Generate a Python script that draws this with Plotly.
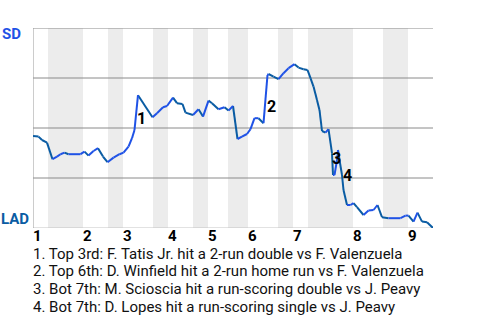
import plotly.graph_objects as go

# Win probability for SD (%), indexed by plate-appearance progress through the game
play_x = [0.0, 1.1, 1.8, 2.8, 3.9, 4.8, 5.5, 6.3, 7.1, 9.5, 10.3, 11.1, 12.1, 13.0, 14.0, 14.9,
          16.1, 17.3, 18.1, 19.1, 19.8, 20.3, 21.0, 23.9, 24.8, 26.0, 26.8, 28.0, 28.8, 29.9,
          30.5, 32.0, 33.1, 34.0, 35.1, 35.8, 37.1, 38.3, 39.1, 40.0, 40.9, 41.8, 42.8, 43.5,
          44.3, 45.1, 46.1, 46.9, 47.1, 48.1, 49.1, 50.1, 51.1, 52.3, 53.1, 54.1, 54.9, 55.5,
          56.1, 56.8, 57.3, 57.8, 58.5, 59.1, 59.8, 60.0, 60.3, 60.8, 61.0, 61.3, 61.8, 62.1,
          62.8, 63.5, 64.1, 64.8, 66.1, 67.1, 68.1, 68.9, 69.8, 71.1, 73.5, 74.5, 75.1, 76.1,
          76.9, 77.8, 78.8, 80.0]
sd_wp = [46.0, 45.7, 44.0, 42.7, 34.4, 35.7, 36.9, 37.7, 36.9, 36.9, 38.2, 36.2, 38.5, 39.9, 35.7, 32.9,
         35.2, 36.9, 37.7, 40.7, 44.9, 49.0, 66.4, 55.4, 57.4, 60.4, 61.0, 65.2, 62.4, 62.0,
         57.7, 56.5, 59.4, 55.7, 63.7, 62.4, 59.4, 60.4, 58.7, 61.0, 44.5, 45.7, 47.0, 49.4,
         54.9, 54.9, 52.4, 76.5, 77.0, 75.7, 74.4, 77.4, 79.9, 81.9, 80.2, 79.4, 79.0, 74.9,
         70.7, 64.0, 59.0, 48.5, 47.7, 49.4, 37.4, 26.5, 26.5, 34.0, 39.0, 34.0, 26.5, 19.0,
         11.5, 11.5, 12.4, 10.4, 6.5, 8.7, 9.0, 11.5, 5.4, 4.9, 4.9, 6.2, 6.2, 3.2,
         7.7, 3.2, 2.9, 0.0]

# half-inning boundaries (in plate appearances)
half_starts = [0, 3, 10, 15, 18, 24, 27, 32, 35, 39, 43, 49, 52, 55, 64, 70, 75, 80]
inning_labels = ["1", "2", "3", "4", "5", "6", "7", "8", "9"]

# key events: index into the play arrays, label
event_idx = [22, 47, 65, 70]
event_labels = ["1", "2", "3", "4"]
event_notes = [
    "1. Top 3rd: F. Tatis Jr. hit a 2-run double vs F. Valenzuela",
    "2. Top 6th: D. Winfield hit a 2-run home run vs F. Valenzuela",
    "3. Bot 7th: M. Scioscia hit a run-scoring double vs J. Peavy",
    "4. Bot 7th: D. Lopes hit a run-scoring single vs J. Peavy",
]

SD_COLOR = "#1f52e6"
LAD_COLOR = "#0a5ca3"
FONT = "Roboto"

up_x, up_y, dn_x, dn_y = [], [], [], []
for i in range(len(play_x) - 1):
    seg_x = [play_x[i], play_x[i + 1], None]
    seg_y = [sd_wp[i], sd_wp[i + 1], None]
    if sd_wp[i + 1] >= sd_wp[i]:
        up_x += seg_x; up_y += seg_y
    else:
        dn_x += seg_x; dn_y += seg_y

fig = go.Figure()
fig.add_trace(go.Scatter(x=dn_x, y=dn_y, mode="lines", line=dict(color=LAD_COLOR, width=2),
                         hoverinfo="skip", showlegend=False))
fig.add_trace(go.Scatter(x=up_x, y=up_y, mode="lines", line=dict(color=SD_COLOR, width=2),
                         hoverinfo="skip", showlegend=False))

shapes = []
for k in range(len(half_starts) - 1):
    if k % 2 == 1:
        shapes.append(dict(type="rect", xref="x", yref="y", x0=half_starts[k], x1=half_starts[k + 1],
                           y0=0, y1=100, fillcolor="#ececec", line=dict(width=0), layer="below"))
for gy in [25, 50, 75, 100]:
    shapes.append(dict(type="line", xref="x", yref="y", x0=0, x1=80, y0=gy, y1=gy,
                       line=dict(color="#8a8a8a", width=1), layer="below"))
shapes.append(dict(type="line", xref="x", yref="y", x0=0, x1=80, y0=0, y1=0,
                   line=dict(color="#c4c4c4", width=1), layer="below"))
shapes.append(dict(type="line", xref="x", yref="y", x0=0, x1=0, y0=0, y1=100,
                   line=dict(color="#9a9a9a", width=1), layer="below"))

annotations = []
# team labels
annotations.append(dict(text="<b>SD</b>", xref="paper", yref="paper", x=-0.055, y=0.97,
                        xanchor="center", yanchor="middle", showarrow=False,
                        font=dict(family=FONT, size=15, color=SD_COLOR)))
annotations.append(dict(text="<b>LAD</b>", xref="paper", yref="paper", x=-0.044, y=0.043,
                        xanchor="center", yanchor="middle", showarrow=False,
                        font=dict(family=FONT, size=15, color=LAD_COLOR)))
# inning labels at the start of each inning
for n, lab in enumerate(inning_labels):
    annotations.append(dict(text="<b>" + lab + "</b>", xref="x", yref="paper", x=half_starts[2 * n],
                            y=-0.042, xanchor="left", yanchor="middle", xshift=-2, showarrow=False,
                            font=dict(family=FONT, size=15, color="#000")))
# event markers
ev_shift = [(3, -23), (4, -31), (3, 17), (5, 0)]
for (idx, lab, (dx, dy)) in zip(event_idx, event_labels, ev_shift):
    annotations.append(dict(text="<b>" + lab + "</b>", xref="x", yref="y", x=play_x[idx], y=sd_wp[idx],
                            xanchor="center", yanchor="middle", xshift=dx, yshift=dy, showarrow=False,
                            font=dict(family=FONT, size=16, color="#000")))
# event notes
for j, note in enumerate(event_notes):
    annotations.append(dict(text=note, xref="paper", yref="paper", x=0.0, y=-0.128 - j * 0.089,
                            xanchor="left", yanchor="middle", xshift=-2, showarrow=False,
                            font=dict(family=FONT, size=15, color="#111")))

fig.update_layout(
    width=480, height=320,
    margin=dict(l=33, r=47, t=28, b=92),
    paper_bgcolor="white", plot_bgcolor="white",
    xaxis=dict(range=[0, 80], showgrid=False, zeroline=False, showticklabels=False, showline=False,
               fixedrange=True),
    yaxis=dict(range=[0, 100], showgrid=False, zeroline=False, showticklabels=False, showline=False,
               fixedrange=True),
    shapes=shapes, annotations=annotations,
)

fig.write_html("out.html", config={"displayModeBar": False})
